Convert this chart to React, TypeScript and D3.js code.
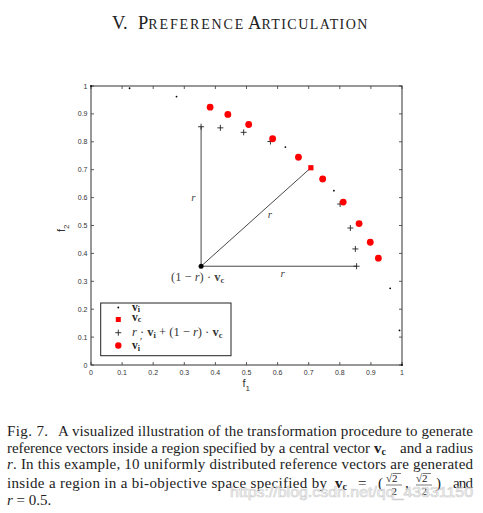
import React from "react";
import * as d3 from "d3";

// v_i : reference vectors (small dots)
const viF1 = [0, 0.124, 0.275, 0.447, 0.625, 0.781, 0.894, 0.962, 0.992, 1];
const viF2 = [1, 0.992, 0.962, 0.894, 0.781, 0.625, 0.447, 0.275, 0.124, 0];
// r * v_i + (1 - r) * v_c  (plus markers)
const plusF1 = [0.354, 0.416, 0.491, 0.577, 0.666, 0.744, 0.801, 0.834, 0.850, 0.854];
const plusF2 = [0.854, 0.850, 0.834, 0.801, 0.744, 0.666, 0.577, 0.491, 0.416, 0.354];
// v_i' (red circles)
const vpF1 = [0.383, 0.440, 0.507, 0.584, 0.667, 0.745, 0.811, 0.862, 0.898, 0.924];
const vpF2 = [0.924, 0.898, 0.862, 0.811, 0.745, 0.667, 0.584, 0.507, 0.440, 0.383];
// v_c and (1-r) v_c
const vc = [0.707, 0.707];
const base = [0.354, 0.354];
const tickValues = [0, 0.1, 0.2, 0.3, 0.4, 0.5, 0.6, 0.7, 0.8, 0.9, 1];
const tickLabels = ["0", "0.1", "0.2", "0.3", "0.4", "0.5", "0.6", "0.7", "0.8", "0.9", "1"];

const W = 483;
const H = 513;
const serif = "'Liberation Serif', 'Times New Roman', serif";
const sans = "'Liberation Sans', Arial, Helvetica, sans-serif";

export default function App() {
  const x = d3.scaleLinear().domain([0, 1]).range([91, 402]);
  const y = d3.scaleLinear().domain([0, 1]).range([365, 86]);
  const axisColor = "#333";
  const tl = 3;

  const frac = (x0: number) => (
    <g>
      <text x={x0} y={482} fontFamily={serif} fontSize={11} fill="#222">√2</text>
      <line x1={x0 + 6.5} x2={x0 + 15} y1={473.5} y2={473.5} stroke="#222" strokeWidth={0.6} />
      <line x1={x0} x2={x0 + 16} y1={485} y2={485} stroke="#222" strokeWidth={0.6} />
      <text x={x0 + 5.5} y={495} fontFamily={serif} fontSize={11} fill="#222">2</text>
    </g>
  );

  return (
    <svg width={W} height={H} style={{ position: "absolute", left: 0, top: 0, background: "#fff" }}>
      <rect width={W} height={H} fill="#fff" />
      {/* Title */}
      <text y={28.5} fontFamily={serif} fill="#222">
        <tspan x={112} fontSize={18.5}>V.</tspan>
        <tspan x={138} fontSize={18.5}>P</tspan>
        <tspan fontSize={14} textLength={95} lengthAdjust="spacing">REFERENCE</tspan>
        <tspan x={248} fontSize={18.5}>A</tspan>
        <tspan fontSize={14} textLength={106} lengthAdjust="spacing">RTICULATION</tspan>
      </text>

      {/* Ticks */}
      {tickValues.map((t, i) => (
        <g key={"t" + i}>
          <line x1={x(t)} x2={x(t)} y1={y(0)} y2={y(0) - tl} stroke={axisColor} strokeWidth={0.8} />
          <line x1={x(t)} x2={x(t)} y1={y(1)} y2={y(1) + tl} stroke={axisColor} strokeWidth={0.8} />
          <line x1={x(0)} x2={x(0) + tl} y1={y(t)} y2={y(t)} stroke={axisColor} strokeWidth={0.8} />
          <line x1={x(1)} x2={x(1) - tl} y1={y(t)} y2={y(t)} stroke={axisColor} strokeWidth={0.8} />
          <text x={x(t)} y={375} textAnchor="middle" fontFamily={sans} fontSize={7} fill="#333">{tickLabels[i]}</text>
          <text x={87.5} y={y(t) + 2.5} textAnchor="end" fontFamily={sans} fontSize={7} fill="#333">{tickLabels[i]}</text>
        </g>
      ))}
      <rect x={x(0)} y={y(1)} width={x(1) - x(0)} height={y(0) - y(1)} fill="none" stroke={axisColor} strokeWidth={1} />

      {/* Axis labels */}
      <text x={242.5} y={387} fontFamily={sans} fontSize={11} fill="#333">f<tspan fontSize={8} dy={4}>1</tspan></text>
      <text transform="translate(65,232) rotate(-90)" fontFamily={sans} fontSize={11} fill="#333">f<tspan fontSize={8} dy={4}>2</tspan></text>

      {/* Construction lines */}
      <line x1={x(base[0])} y1={y(base[1])} x2={x(plusF1[0])} y2={y(plusF2[0])} stroke="#333" strokeWidth={0.9} />
      <line x1={x(base[0])} y1={y(base[1])} x2={x(plusF1[9])} y2={y(plusF2[9])} stroke="#333" strokeWidth={0.9} />
      <line x1={x(base[0])} y1={y(base[1])} x2={x(vc[0])} y2={y(vc[1])} stroke="#333" strokeWidth={0.9} />
      <text x={x(0.329)} y={y(0.597) + 3} textAnchor="middle" fontFamily={serif} fontStyle="italic" fontSize={11} fill="#444">r</text>
      <text x={x(0.575)} y={y(0.539) + 3} textAnchor="middle" fontFamily={serif} fontStyle="italic" fontSize={11} fill="#444">r</text>
      <text x={x(0.616)} y={y(0.325) + 3} textAnchor="middle" fontFamily={serif} fontStyle="italic" fontSize={11} fill="#444">r</text>
      <text x={171} y={280.5} fontFamily={serif} fontSize={12.5} fill="#444">(1 − <tspan fontStyle="italic">r</tspan>) · <tspan fontWeight="bold">v</tspan><tspan fontWeight="bold" fontSize={8.5} dy={2}>c</tspan></text>

      {/* v_i dots */}
      {viF1.map((v, i) => (
        <circle key={"vi" + i} cx={x(v)} cy={y(viF2[i])} r={0.9} fill="#000" />
      ))}
      {/* plus markers */}
      {plusF1.map((v, i) => (
        <g key={"p" + i} stroke="#222" strokeWidth={0.9}>
          <line x1={x(v) - 3} x2={x(v) + 3} y1={y(plusF2[i])} y2={y(plusF2[i])} />
          <line x1={x(v)} x2={x(v)} y1={y(plusF2[i]) - 3} y2={y(plusF2[i]) + 3} />
        </g>
      ))}
      {/* v_i' red circles */}
      {vpF1.map((v, i) => (
        <circle key={"vp" + i} cx={x(v)} cy={y(vpF2[i])} r={3.4} fill="#f00" />
      ))}
      {/* v_c */}
      <rect x={x(vc[0]) - 2.6} y={y(vc[1]) - 2.6} width={5.2} height={5.2} fill="#f00" />
      {/* base point */}
      <circle cx={x(base[0])} cy={y(base[1])} r={2.5} fill="#000" />

      {/* Legend */}
      <rect x={100.7} y={303} width={130.3} height={52.7} fill="#fff" stroke="#222" strokeWidth={1} />
      <circle cx={118.3} cy={307.5} r={0.9} fill="#000" />
      <text x={132} y={310.5} fontFamily={serif} fontSize={11.5} fontWeight="bold" fill="#222">v<tspan fontSize={8} dy={1.5}>i</tspan></text>
      <rect x={115.8} y={317} width={5} height={5} fill="#f00" />
      <text x={132} y={320.5} fontFamily={serif} fontSize={11.5} fontWeight="bold" fill="#222">v<tspan fontSize={8} dy={1.5}>c</tspan></text>
      <g stroke="#222" strokeWidth={0.9}>
        <line x1={115.3} x2={121.3} y1={332.7} y2={332.7} />
        <line x1={118.3} x2={118.3} y1={329.7} y2={335.7} />
      </g>
      <text x={132} y={336} fontFamily={serif} fontSize={12.5} fill="#333">
        <tspan fontStyle="italic">r</tspan> · <tspan fontWeight="bold">v</tspan><tspan fontWeight="bold" fontSize={8.5} dy={1.5}>i</tspan><tspan dy={-1.5}> + (1 − </tspan><tspan fontStyle="italic">r</tspan>) · <tspan fontWeight="bold">v</tspan><tspan fontWeight="bold" fontSize={8.5} dy={1.5}>c</tspan>
      </text>
      <circle cx={118.3} cy={345.5} r={3.2} fill="#f00" />
      <text x={132} y={349} fontFamily={serif} fontSize={11.5} fontWeight="bold" fill="#222">v<tspan fontSize={8} dy={1.5}>i</tspan><tspan fontWeight="normal" fontSize={10} dy={-6}>′</tspan></text>

      {/* Caption */}
      <text x={7} y={436} fontFamily={serif} fontSize={15} fill="#222" textLength={41} lengthAdjust="spacing">Fig. 7.</text>
      <text x={58} y={436} fontFamily={serif} fontSize={15} fill="#222" textLength={415} lengthAdjust="spacing">A visualized illustration of the transformation procedure to generate</text>
      <text x={7} y={452.7} fontFamily={serif} fontSize={15} fill="#222" textLength={363} lengthAdjust="spacing">reference vectors inside a region specified by a central vector</text>
      <text x={374} y={452.7} fontFamily={serif} fontSize={15} fontWeight="bold" fill="#222">v<tspan fontSize={10} dy={2}>c</tspan></text>
      <text x={400} y={452.7} fontFamily={serif} fontSize={15} fill="#222" textLength={73} lengthAdjust="spacing">and a radius</text>
      <text x={7} y={469.3} fontFamily={serif} fontSize={15} fill="#222" fontStyle="italic">r</text>
      <text x={13} y={469.3} fontFamily={serif} fontSize={15} fill="#222" textLength={460} lengthAdjust="spacing">. In this example, 10 uniformly distributed reference vectors are generated</text>
      <text x={7} y={488} fontFamily={serif} fontSize={15} fill="#222" textLength={320} lengthAdjust="spacing">inside a region in a bi-objective space specified by</text>
      <text x={335} y={488} fontFamily={serif} fontSize={15} fontWeight="bold" fill="#222">v<tspan fontSize={10} dy={2}>c</tspan></text>
      <text x={358} y={488} fontFamily={serif} fontSize={15} fill="#222">=</text>
      <text x={378} y={488} fontFamily={serif} fontSize={15} fill="#222">(</text>
      {frac(386)}
      <text x={405} y={488} fontFamily={serif} fontSize={15} fill="#222">,</text>
      {frac(416)}
      <text x={436} y={488} fontFamily={serif} fontSize={15} fill="#222">)</text>
      <text x={453} y={488} fontFamily={serif} fontSize={15} fill="#222" textLength={20} lengthAdjust="spacing">and</text>
      <text x={7} y={505} fontFamily={serif} fontSize={15} fill="#222"><tspan fontStyle="italic">r</tspan> = 0.5.</text>

      {/* Watermark */}
      <text x={230} y={497} fontFamily={sans} fontSize={15} fill="none" stroke="#d0d0d0" strokeWidth={0.7} textLength={243} lengthAdjust="spacingAndGlyphs">https://blog.csdn.net/qq_43331150</text>
    </svg>
  );
}
